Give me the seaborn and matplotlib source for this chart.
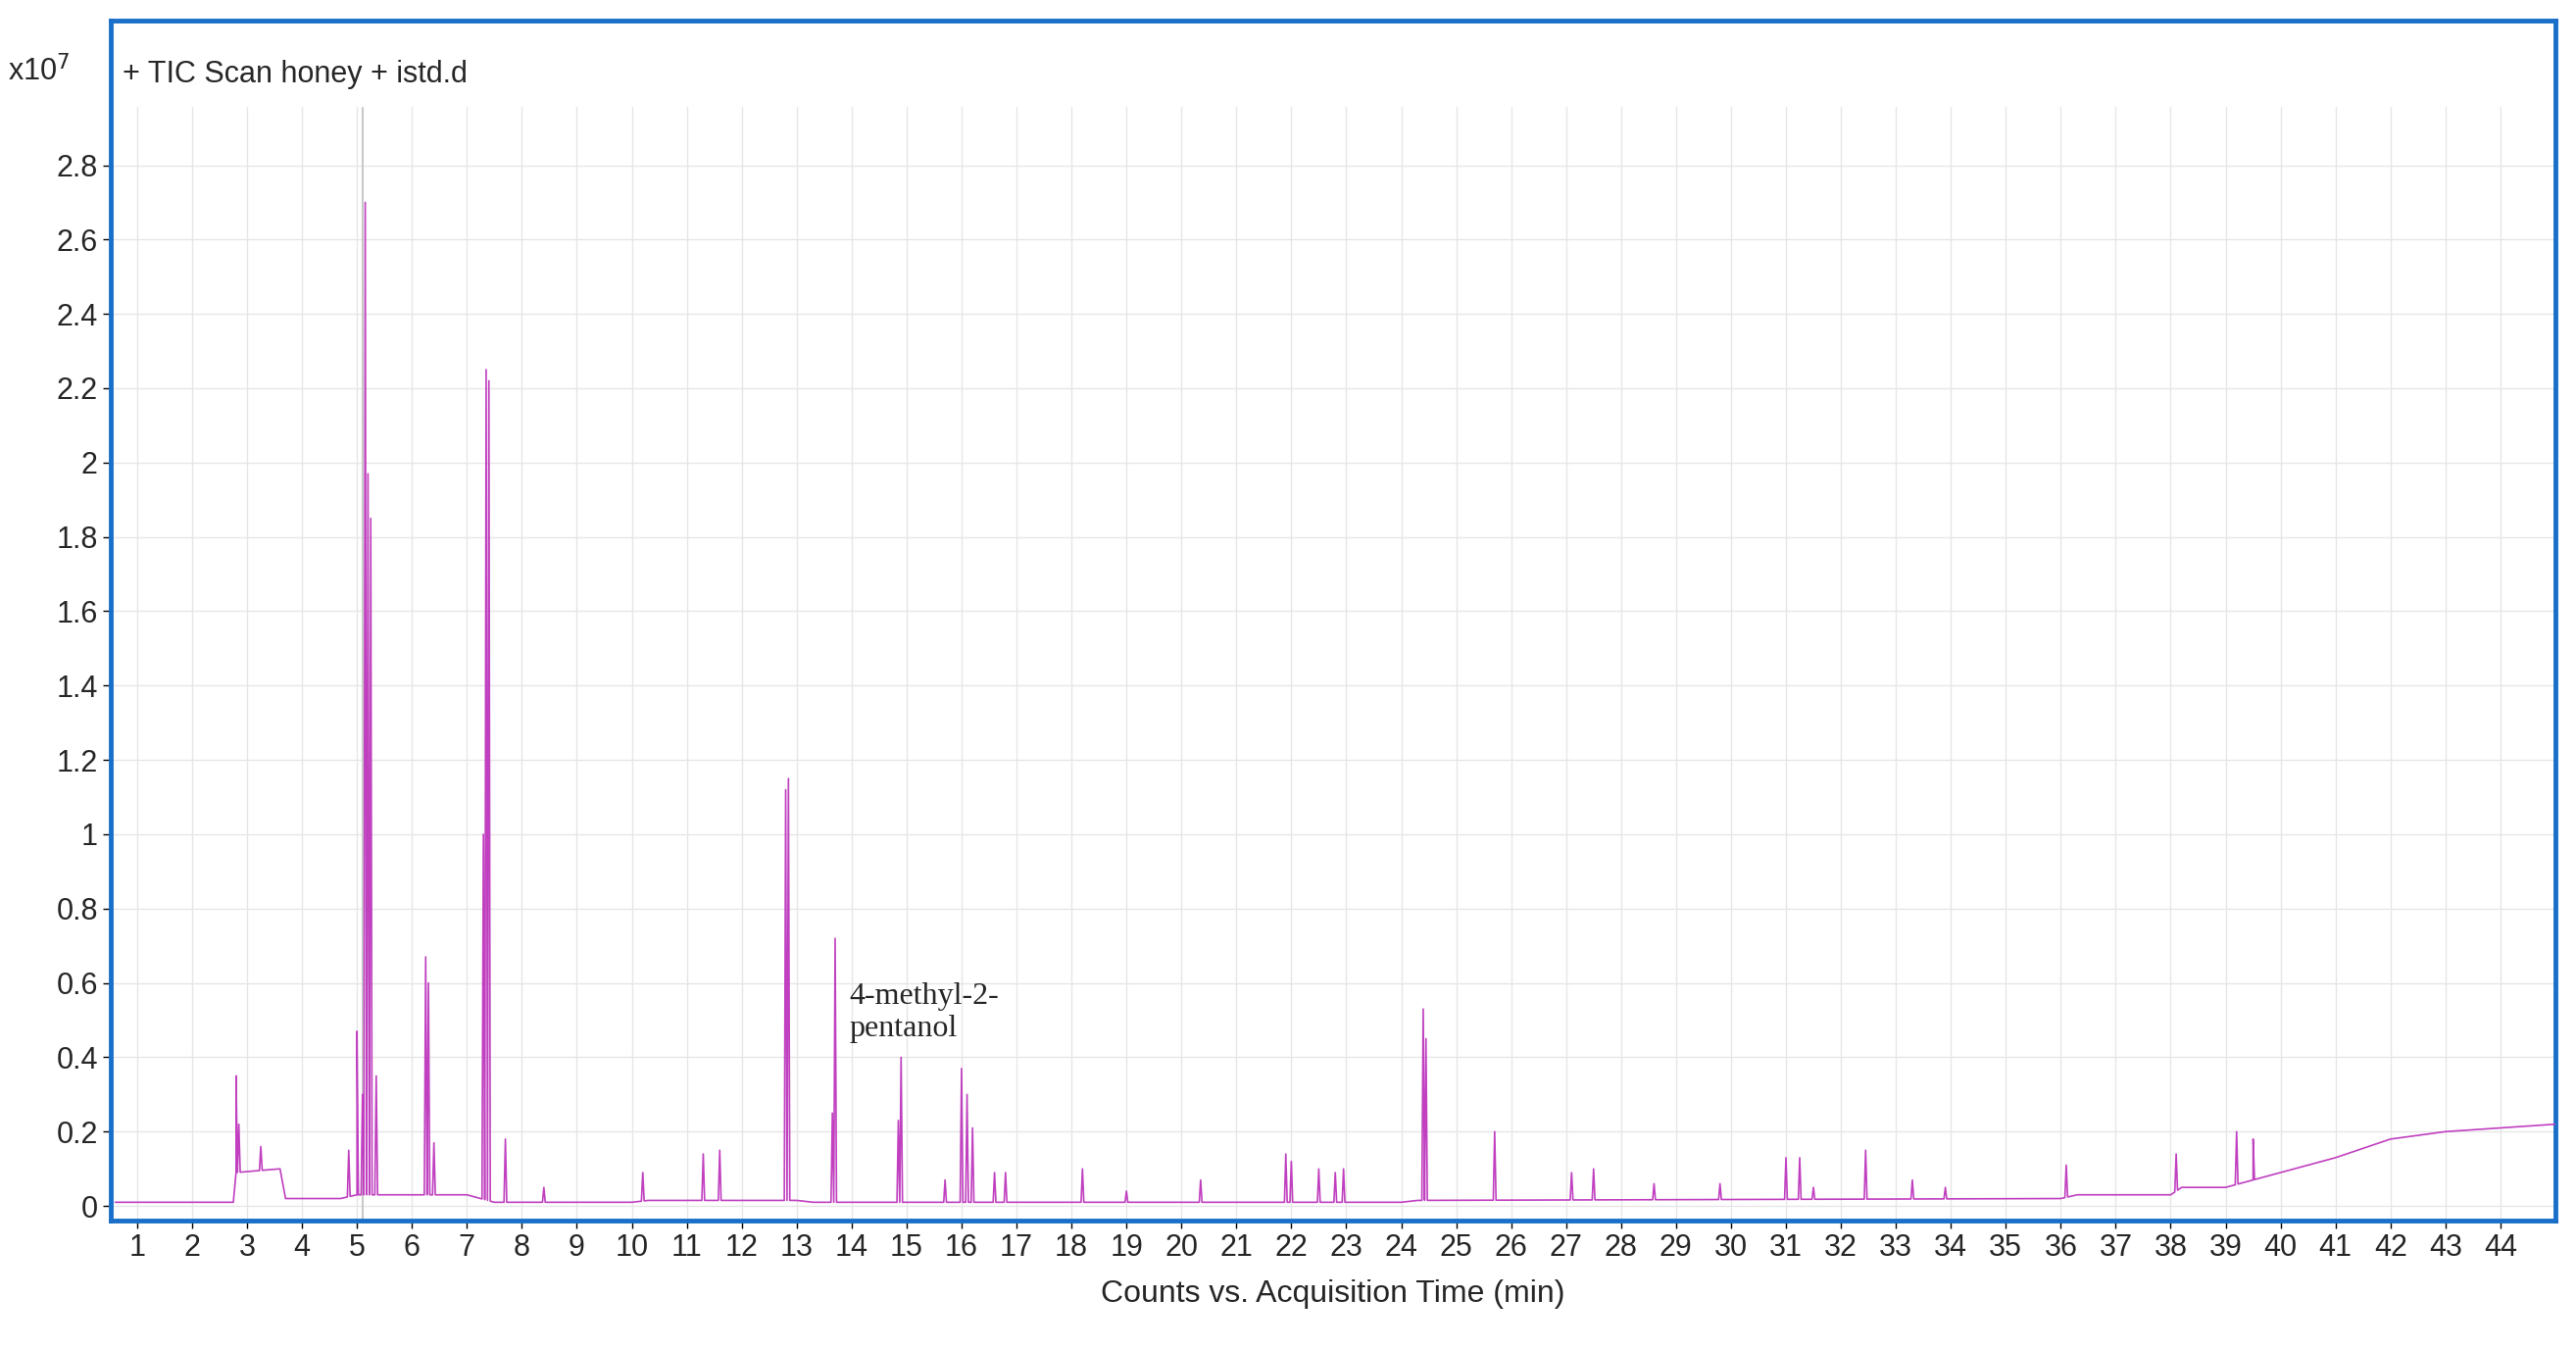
import matplotlib
matplotlib.use("Agg")
import matplotlib.pyplot as plt
import seaborn as sns
import numpy as np
import pandas as pd

sns.set_theme(style="white")
plt.rcParams['font.family'] = ['Liberation Sans', 'DejaVu Sans']

# baseline (time min, counts x1e7)
base_t = [0.6, 2.75, 2.8, 3.6, 3.7, 4.7, 5.0, 7.0, 7.5, 10.0, 10.3, 13.0, 13.3, 24.0, 24.3, 36.0, 36.3, 38.0, 38.2, 39.0, 39.5, 40.0, 41.0, 42.0, 43.0, 44.0, 45.0]
base_y = [0.01, 0.01, 0.09, 0.10, 0.02, 0.02, 0.03, 0.03, 0.01, 0.01, 0.015, 0.015, 0.01, 0.01, 0.015, 0.02, 0.03, 0.03, 0.05, 0.05, 0.07, 0.09, 0.13, 0.18, 0.20, 0.21, 0.22]

# peaks
peak_t = [2.8, 2.85, 3.25, 4.85, 5.0, 5.1, 5.15, 5.2, 5.25, 5.35, 6.25, 6.3, 6.4, 7.3, 7.35, 7.4, 7.7, 8.4,
          10.2, 11.3, 11.6, 12.8, 12.85, 13.65, 13.7, 14.85, 14.9, 15.7, 16.0, 16.1, 16.2, 16.6, 16.8, 18.2,
          19.0, 20.35, 21.9, 22.0, 22.5, 22.8, 22.95, 24.4, 24.45, 25.7, 27.1, 27.5, 28.6, 29.8, 31.0, 31.25,
          31.5, 32.45, 33.3, 33.9, 36.1, 38.1, 39.2, 39.5]
peak_h = [0.35, 0.22, 0.16, 0.15, 0.47, 0.30, 2.70, 1.97, 1.85, 0.35, 0.67, 0.60, 0.17, 1.00, 2.25, 2.22, 0.18, 0.05,
          0.09, 0.14, 0.15, 1.12, 1.15, 0.25, 0.72, 0.23, 0.40, 0.07, 0.37, 0.30, 0.21, 0.09, 0.09, 0.10,
          0.04, 0.07, 0.14, 0.12, 0.10, 0.09, 0.10, 0.53, 0.45, 0.20, 0.09, 0.10, 0.06, 0.06, 0.13, 0.13,
          0.05, 0.15, 0.07, 0.05, 0.11, 0.14, 0.20, 0.18]

w = 0.025
ts, ys = list(base_t), list(base_y)
for t, h in zip(peak_t, peak_h):
    for dt, f in [(-w, 0.0), (0.0, 1.0), (w, 0.0)]:
        tt = t + dt
        b = np.interp(tt, base_t, base_y)
        ts.append(tt)
        ys.append(max(b, h) if f else b)
df = pd.DataFrame({"t": ts, "y": ys}).sort_values("t")

fig = plt.figure(figsize=(26.28, 13.76), dpi=100)
ax = fig.add_axes([0.043, 0.095, 0.949, 0.89])
ax.axvline(5.1, color="#c8c8c8", lw=1.5, zorder=1)
sns.lineplot(data=df, x="t", y="y", ax=ax, color="#c040c0", lw=1.2, sort=False, estimator=None, zorder=3)

ax.set_xlim(0.52, 45.0)
ax.set_ylim(-0.04, 3.19)
ax.set_xticks(range(1, 45))
ax.set_xticklabels([str(i) for i in range(1, 45)], fontsize=22)
yt = [round(0.2 * i, 1) for i in range(15)]
ax.set_yticks(yt)
ax.set_yticklabels(["%g" % v for v in yt], fontsize=22)
ax.grid(True, color="#e6e6e6", lw=1, zorder=0)
ax.set_axisbelow(True)
ax.tick_params(axis="both", length=6, width=1, color="black", direction="out", bottom=True, left=True)
ax.set_xlabel("Counts vs. Acquisition Time (min)", fontsize=23, labelpad=12)
ax.set_ylabel("")
for s in ax.spines.values():
    s.set_color("#1a6fc9")
    s.set_linewidth(3.5)
ax.axhspan(2.96, 3.19, color="white", zorder=2)
ax.text(0.005, 0.955, "+ TIC Scan honey + istd.d", transform=ax.transAxes, fontsize=22, va="center", zorder=5)
fig.text(0.003, 0.947, r"x10$^7$", fontsize=22, va="center")
ax.text(13.95, 0.52, "4-methyl-2-\npentanol", fontsize=23, family="Liberation Serif", va="center", linespacing=1.2, zorder=5)
fig.savefig("out.png", dpi=100)
